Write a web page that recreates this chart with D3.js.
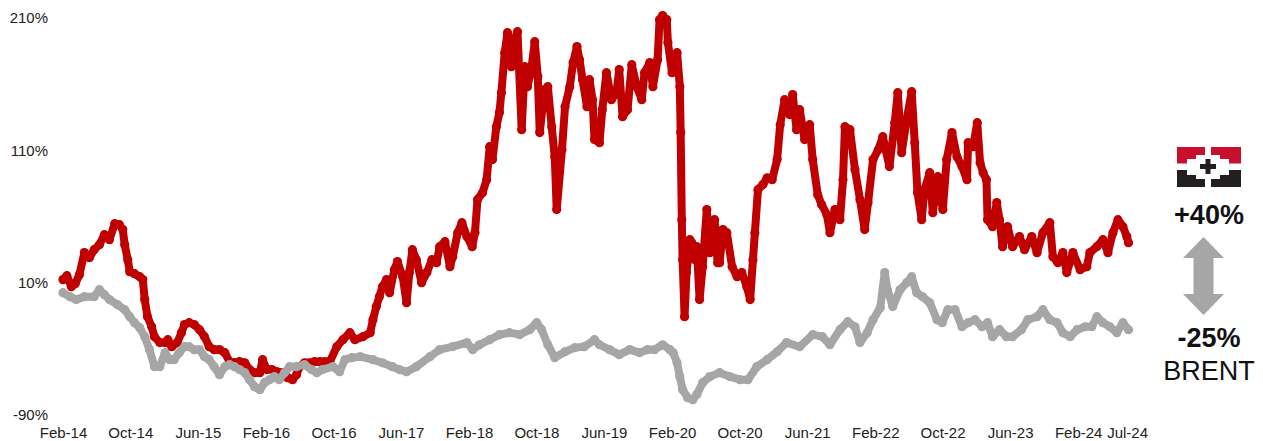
<!DOCTYPE html>
<html>
<head>
<meta charset="utf-8">
<script src="https://cdn.jsdelivr.net/npm/d3@7"></script>
<style>
    body { margin: 0; background: #fff; }
    text { font-family: "Liberation Sans", Arial, sans-serif; fill: #222; }
</style>
</head>
<body>
<div id="chart"></div>
<script>
// company share price, % change since Feb-14
var companyDates = [
    "2014-02-01","2014-02-15","2014-03-03","2014-03-17","2014-04-01","2014-04-19","2014-05-07","2014-05-24","2014-06-12","2014-06-30",
    "2014-07-18","2014-08-06","2014-08-23","2014-09-04","2014-09-11","2014-09-22","2014-09-29","2014-10-16","2014-11-04","2014-11-15",
    "2014-11-22","2014-12-02","2014-12-17","2014-12-27","2015-01-15","2015-02-03","2015-02-13","2015-02-27","2015-03-19","2015-04-03",
    "2015-04-14","2015-05-01","2015-05-19","2015-06-07","2015-06-25","2015-07-12","2015-07-30","2015-08-18","2015-09-06","2015-09-23",
    "2015-10-11","2015-10-29","2015-11-17","2015-12-04","2015-12-22","2016-01-10","2016-01-20","2016-02-04","2016-02-22","2016-03-13",
    "2016-04-01","2016-04-19","2016-05-07","2016-05-21","2016-06-01","2016-06-19","2016-07-07","2016-07-25","2016-08-13","2016-08-30",
    "2016-09-18","2016-10-13","2016-11-04","2016-11-29","2016-12-17","2017-01-15","2017-02-10","2017-02-20","2017-03-04","2017-03-15",
    "2017-03-26","2017-04-10","2017-04-21","2017-05-08","2017-05-19","2017-06-07","2017-06-21","2017-07-01","2017-07-12","2017-07-26",
    "2017-08-14","2017-09-02","2017-09-20","2017-10-07","2017-10-18","2017-11-06","2017-11-24","2017-12-04","2017-12-22","2018-01-06",
    "2018-01-24","2018-02-12","2018-02-22","2018-03-03","2018-03-21","2018-04-05","2018-04-16","2018-04-26","2018-05-10","2018-05-21",
    "2018-05-28","2018-06-09","2018-06-19","2018-07-03","2018-07-14","2018-07-25","2018-08-09","2018-08-20","2018-08-30","2018-09-14",
    "2018-09-25","2018-10-06","2018-10-13","2018-10-30","2018-11-11","2018-11-25","2018-12-06","2018-12-13","2019-01-01","2019-01-12",
    "2019-01-29","2019-02-10","2019-02-24","2019-03-05","2019-03-16","2019-04-01","2019-04-10","2019-04-21","2019-04-28","2019-05-16",
    "2019-05-26","2019-06-10","2019-06-28","2019-07-16","2019-07-26","2019-08-07","2019-08-25","2019-09-09","2019-09-27","2019-10-15",
    "2019-10-25","2019-11-13","2019-11-24","2019-12-11","2019-12-18","2019-12-29","2020-01-13","2020-01-17","2020-02-01","2020-02-05",
    "2020-02-19","2020-02-29","2020-03-03","2020-03-07","2020-03-10","2020-03-17","2020-03-24","2020-04-05","2020-04-12","2020-04-23",
    "2020-04-30","2020-05-10","2020-05-21","2020-06-05","2020-06-16","2020-06-26","2020-07-03","2020-07-14","2020-07-21","2020-08-02",
    "2020-08-16","2020-09-04","2020-09-22","2020-10-09","2020-10-27","2020-11-08","2020-11-18","2020-11-25","2020-12-06","2020-12-24",
    "2021-01-08","2021-01-26","2021-02-13","2021-02-24","2021-03-12","2021-03-30","2021-04-10","2021-04-24","2021-05-05","2021-05-23",
    "2021-06-10","2021-06-21","2021-07-09","2021-07-23","2021-08-11","2021-08-22","2021-09-09","2021-09-27","2021-10-08","2021-10-15",
    "2021-11-02","2021-11-20","2021-12-08","2021-12-25","2022-01-06","2022-01-24","2022-02-12","2022-02-28","2022-03-24","2022-04-12",
    "2022-04-23","2022-05-07","2022-05-25","2022-06-12","2022-06-23","2022-07-03","2022-07-18","2022-07-28","2022-08-16","2022-08-27",
    "2022-09-14","2022-10-02","2022-10-16","2022-11-04","2022-11-22","2022-12-10","2022-12-28","2023-01-01","2023-01-19","2023-02-03",
    "2023-02-13","2023-02-24","2023-03-08","2023-03-12","2023-03-30","2023-04-14","2023-04-24","2023-05-05","2023-05-23","2023-06-10",
    "2023-07-05","2023-07-23","2023-08-18","2023-09-06","2023-09-27","2023-10-22","2023-11-02","2023-11-20","2023-12-08","2023-12-22",
    "2024-01-13","2024-02-08","2024-03-03","2024-03-14","2024-04-08","2024-04-30","2024-05-18","2024-06-05","2024-06-23","2024-07-11",
    "2024-07-25","2024-07-31"
];
var companyValues = [
    12.3, 15.3, 7.0, 9.2, 16.0, 32.7, 28.9, 34.9, 38.7, 46.3,
    42.5, 54.6, 53.8, 50.1, 38.7, 27.4, 18.3, 16.8, 14.5, 12.3,
    -2.8, -15.7, -23.3, -30.8, -35.3, -35.3, -33.1, -38.4, -35.3, -27.8,
    -21.7, -20.2, -21.7, -25.5, -30.8, -38.4, -40.6, -40.6, -42.9, -49.7,
    -50.5, -49.7, -50.5, -55.7, -58.0, -58.0, -48.2, -55.7, -55.7, -57.3,
    -58.0, -61.8, -63.3, -59.5, -53.5, -50.5, -50.5, -49.7, -49.7, -49.7,
    -49.7, -38.4, -33.1, -27.8, -33.1, -30.8, -27.8, -18.0, -8.1, -0.6,
    7.0, 12.3, 2.4, 19.8, 25.9, 14.5, -5.1, 17.6, 34.9, 27.4,
    10.0, 17.6, 27.4, 25.1, 37.2, 41.0, 22.1, 29.6, 47.8, 55.3,
    44.8, 37.2, 47.8, 72.7, 78.0, 87.8, 112.8, 103.0, 127.9, 138.5,
    153.6, 183.8, 198.9, 173.2, 193.6, 199.7, 125.6, 173.2, 158.1, 173.2,
    192.1, 165.7, 123.4, 155.8, 158.1, 127.9, 105.2, 65.2, 110.5, 143.0,
    158.1, 176.3, 188.4, 178.5, 163.4, 143.0, 163.4, 148.3, 118.1, 115.8,
    140.7, 168.7, 148.3, 153.6, 171.0, 135.4, 140.7, 174.7, 158.1, 148.3,
    168.7, 176.3, 158.1, 178.5, 208.7, 211.8, 208.7, 191.4, 168.7, 180.8,
    183.8, 158.1, 123.4, 57.6, 27.4, -15.7, 17.6, 42.5, 40.2, 27.4,
    37.2, -2.8, 22.1, 65.2, 32.7, 52.3, 57.6, 25.1, 25.1, 50.1,
    47.8, 22.1, 14.5, 17.6, 7.0, -2.8, 27.4, 47.8, 80.3, 84.1,
    89.3, 87.8, 103.0, 129.4, 148.3, 137.0, 152.1, 125.6, 140.7, 118.1,
    129.4, 103.0, 76.5, 68.9, 61.4, 47.8, 65.2, 57.6, 87.8, 127.9,
    125.6, 95.4, 72.7, 50.1, 70.5, 103.0, 110.5, 120.3, 97.7, 130.9,
    153.6, 108.2, 133.2, 154.3, 115.8, 78.0, 57.6, 80.3, 93.1, 62.9,
    90.1, 65.2, 103.0, 123.4, 105.2, 97.7, 87.8, 115.8, 112.8, 130.9,
    100.7, 93.1, 87.8, 57.6, 52.3, 70.5, 57.6, 37.2, 52.3, 37.2,
    44.8, 34.9, 44.8, 32.7, 47.8, 55.3, 29.6, 25.1, 32.7, 17.6,
    32.7, 19.8, 22.1, 32.7, 37.2, 42.5, 32.7, 47.8, 57.6, 52.3,
    44.8, 40.2
];

// Brent, % change since Feb-14
var brentDates = [
    "2014-02-01","2014-02-26","2014-03-20","2014-04-19","2014-05-24","2014-06-12","2014-06-30","2014-07-18","2014-08-16","2014-09-11",
    "2014-09-29","2014-10-16","2014-11-04","2014-11-22","2014-12-09","2014-12-27","2015-01-15","2015-02-03","2015-02-20","2015-03-08",
    "2015-03-26","2015-04-14","2015-05-01","2015-05-19","2015-06-07","2015-06-25","2015-07-12","2015-07-30","2015-08-18","2015-09-06",
    "2015-09-23","2015-10-11","2015-10-29","2015-11-17","2015-12-04","2015-12-22","2016-01-10","2016-01-27","2016-02-14","2016-03-02",
    "2016-03-20","2016-04-08","2016-04-26","2016-05-21","2016-06-19","2016-07-14","2016-08-02","2016-08-23","2016-09-29","2016-10-23",
    "2016-11-11","2016-12-06","2017-01-05","2017-02-20","2017-03-26","2017-05-01","2017-05-26","2017-06-21","2017-07-26","2017-09-13",
    "2017-10-18","2017-12-04","2018-01-24","2018-02-14","2018-03-10","2018-04-16","2018-05-21","2018-06-26","2018-08-02","2018-09-07",
    "2018-10-02","2018-10-20","2018-11-11","2018-12-06","2019-01-12","2019-02-16","2019-03-22","2019-04-28","2019-05-16","2019-06-21",
    "2019-07-26","2019-09-02","2019-10-07","2019-11-05","2019-11-30","2019-12-29","2020-01-24","2020-02-05","2020-02-19","2020-02-29",
    "2020-03-10","2020-03-28","2020-04-16","2020-04-30","2020-05-21","2020-06-16","2020-07-21","2020-08-27","2020-10-02","2020-10-31",
    "2020-12-02","2021-01-08","2021-02-13","2021-03-19","2021-05-05","2021-06-21","2021-07-26","2021-08-22","2021-09-27","2021-10-25",
    "2021-11-20","2021-12-08","2022-01-03","2022-01-24","2022-02-19","2022-03-07","2022-03-17","2022-04-05","2022-05-01","2022-05-25",
    "2022-06-12","2022-06-30","2022-07-21","2022-08-16","2022-09-11","2022-09-30","2022-10-20","2022-11-15","2022-12-10","2023-01-01",
    "2023-01-26","2023-02-20","2023-03-12","2023-03-30","2023-04-24","2023-05-19","2023-06-10","2023-07-12","2023-08-04","2023-09-06",
    "2023-09-27","2023-10-22","2023-11-17","2023-12-08","2024-01-03","2024-01-28","2024-02-26","2024-03-21","2024-04-08","2024-04-30",
    "2024-05-25","2024-06-19","2024-07-11","2024-07-31"
];
var brentValues = [
    2.4, -0.6, -2.8, -0.6, -0.6, 4.7, 0.9, -2.8, -6.6, -10.4,
    -15.7, -20.2, -24.0, -30.8, -40.6, -53.5, -53.5, -42.9, -48.2, -48.2,
    -42.9, -38.4, -38.4, -40.6, -40.6, -45.9, -48.2, -53.5, -59.5, -53.5,
    -52.0, -53.5, -55.7, -58.0, -63.3, -68.6, -70.9, -65.6, -63.3, -61.0,
    -63.3, -58.0, -53.5, -53.5, -52.0, -55.7, -58.0, -55.7, -53.5, -57.3,
    -48.2, -46.7, -45.9, -48.2, -50.5, -53.5, -55.7, -57.3, -53.5, -45.9,
    -40.6, -38.4, -35.3, -40.6, -36.9, -33.1, -29.3, -27.8, -29.3, -25.5,
    -20.2, -25.5, -36.9, -46.7, -42.2, -39.1, -38.4, -33.1, -36.9, -40.6,
    -44.4, -40.6, -42.9, -40.6, -40.6, -36.9, -40.6, -42.9, -50.5, -61.0,
    -70.9, -76.9, -78.4, -74.6, -65.6, -61.0, -58.0, -61.0, -63.3, -63.3,
    -53.5, -48.2, -42.2, -35.3, -38.4, -29.3, -30.8, -36.9, -25.5, -19.5,
    -23.3, -35.3, -27.8, -18.0, -8.9, 17.6, 4.7, -8.1, 4.7, 10.0,
    14.5, 2.4, -0.6, -5.1, -18.0, -20.2, -10.4, -10.4, -23.3, -20.2,
    -18.0, -23.3, -20.2, -30.8, -25.5, -30.8, -30.8, -25.5, -18.0, -15.7,
    -10.4, -18.0, -20.2, -27.8, -30.8, -25.5, -23.3, -23.3, -15.7, -20.2,
    -23.3, -27.8, -20.2, -25.5
];

var yTicks = [-90, 10, 110, 210];
var xTickDates = ["2014-02-01","2014-10-01","2015-06-01","2016-02-01","2016-10-01","2017-06-01","2018-02-01","2018-10-01",
    "2019-06-01","2020-02-01","2020-10-01","2021-06-01","2022-02-01","2022-10-01","2023-06-01","2024-02-01","2024-07-26"];
var xTickLabels = ["Feb-14","Oct-14","Jun-15","Feb-16","Oct-16","Jun-17","Feb-18","Oct-18",
    "Jun-19","Feb-20","Oct-20","Jun-21","Feb-22","Oct-22","Jun-23","Feb-24","Jul-24"];

var companyChange = "+40%";
var brentChange = "-25%";
var brentName = "BRENT";

var width = 1263,
    height = 441;

var parse = d3.timeParse("%Y-%m-%d");

var company = companyDates.map(function (d, i) {
    return { date: parse(d), value: companyValues[i] };
});
var brent = brentDates.map(function (d, i) {
    return { date: parse(d), value: brentValues[i] };
});

var svg = d3.select("#chart").append("svg")
    .attr("width", width)
    .attr("height", height);

// scales
var x = d3.scaleTime()
    .domain([parse("2014-02-01"), parse("2024-07-31")])
    .range([63, 1128.5]);
var y = d3.scaleLinear()
    .domain([-90, 210])
    .range([415, 18]);

// y axis labels, no lines
svg.append("g")
    .attr("class", "yaxis")
    .attr("transform", "translate(48,0)")
    .call(d3.axisLeft(y).tickValues(yTicks).tickSize(0).tickPadding(0)
        .tickFormat(function (d) { return d + "%"; }))
    .call(function (g) { g.select(".domain").remove(); })
    .selectAll("text")
    .style("font-size", "15px")
    .style("font-family", '"Liberation Sans", Arial, sans-serif')
    .attr("fill", "#222");

// x axis labels
svg.append("g")
    .attr("class", "xaxis")
    .attr("transform", "translate(0,415)")
    .call(d3.axisBottom(x).tickValues(xTickDates.map(parse)).tickSize(0).tickPadding(12)
        .tickFormat(function (d, i) { return xTickLabels[i]; }))
    .call(function (g) { g.select(".domain").remove(); })
    .selectAll("text")
    .style("font-size", "15px")
    .style("font-family", '"Liberation Sans", Arial, sans-serif')
    .attr("fill", "#222");

var line = d3.line()
    .x(function (d) { return x(d.date); })
    .y(function (d) { return y(d.value); });

function drawSeries(data, color, cls) {
    var g = svg.append("g").attr("class", cls);
    g.append("path")
        .datum(data)
        .attr("d", line)
        .attr("fill", "none")
        .attr("stroke", color)
        .attr("stroke-width", 8)
        .attr("stroke-linejoin", "round")
        .attr("stroke-linecap", "round");
    g.selectAll("circle")
        .data(data)
        .enter().append("circle")
        .attr("cx", function (d) { return x(d.date); })
        .attr("cy", function (d) { return y(d.value); })
        .attr("r", 4.6)
        .attr("fill", color);
}

drawSeries(company, "#c00000", "company");
drawSeries(brent, "#a6a6a6", "brent");

// logo on the right
var logo = svg.append("g").attr("transform", "translate(1177,147)");
logo.append("path")
    .attr("d", "M0,0H28V8H19V12H10V16.5H0Z")
    .attr("fill", "#c8102e");
logo.append("path")
    .attr("d", "M64,0H34V8H43V12H52V16.5H64Z")
    .attr("fill", "#c8102e");
logo.append("path")
    .attr("d", "M0,40H28V32H19V28H10V23H0Z")
    .attr("fill", "#231f20");
logo.append("path")
    .attr("d", "M64,40H34V32H43V28H52V23H64Z")
    .attr("fill", "#231f20");
logo.append("path")
    .attr("d", "M28.5,12H33.5V17H39V22H33.5V27H28.5V22H23V17H28.5Z")
    .attr("fill", "#231f20");

// annotation
svg.append("text")
    .attr("x", 1209)
    .attr("y", 224)
    .attr("text-anchor", "middle")
    .style("font-size", "27px")
    .style("font-weight", "bold")
    .style("fill", "#111")
    .text(companyChange);

// double arrow
svg.append("path")
    .attr("d", "M1203.5,237L1224,258H1213.5V294H1224L1203.5,315L1183,294H1193.5V258H1183Z")
    .attr("fill", "#a6a6a6");

svg.append("text")
    .attr("x", 1209)
    .attr("y", 347)
    .attr("text-anchor", "middle")
    .style("font-size", "27px")
    .style("font-weight", "bold")
    .style("fill", "#111")
    .text(brentChange);

svg.append("text")
    .attr("x", 1209)
    .attr("y", 380)
    .attr("text-anchor", "middle")
    .style("font-size", "27px")
    .style("fill", "#111")
    .text(brentName);
</script>
</body>
</html>
